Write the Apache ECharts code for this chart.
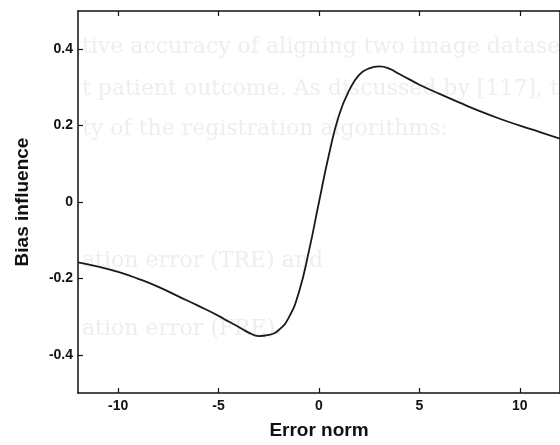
<!DOCTYPE html>
<html>
<head>
<meta charset="utf-8">
<script src="https://cdn.jsdelivr.net/npm/echarts@6/dist/echarts.min.js"></script>
<style>html,body{margin:0;padding:0;background:#fff}#c{width:560px;height:445px}</style>
</head>
<body>
<div id="c"></div>
<script>
// Data
const errorNorm = [-12,-11,-10,-9,-8,-7,-6,-5,-4.5,-4,-3.5,-3,-2.5,-2,-1.5,-1,-0.5,0,0.5,1,1.5,2,2.5,3,3.5,4,4.5,5,6,7,8,9,10,11,12];
const biasInfluence = [-0.158,-0.169,-0.183,-0.201,-0.222,-0.247,-0.272,-0.298,-0.313,-0.327,-0.342,-0.351,-0.348,-0.335,-0.302,-0.236,-0.128,0,0.125,0.228,0.292,0.333,0.350,0.355,0.349,0.335,0.321,0.307,0.283,0.260,0.238,0.218,0.200,0.183,0.166];
const xTicks = [-10,-5,0,5,10];
const yTicks = [-0.4,-0.2,0,0.2,0.4];
const bgLines = [
  "tive accuracy of aligning two image datase",
  "t patient outcome. As discussed by [117], t",
  "ty of the registration algorithms:",
  "ation error (TRE) and",
  "ation error (FRE)."
];
const bgY = [36, 78, 118, 250, 318];

const chart = echarts.init(document.getElementById('c'), null, {renderer:'canvas'});
const lbl = {color:'#111', fontFamily:'Liberation Sans, Arial', fontSize:14, fontWeight:'bold'};
const nameStyle = {color:'#111', fontFamily:'Liberation Sans, Arial', fontSize:19, fontWeight:'bold'};
chart.setOption({
  animation:false,
  backgroundColor:'#fff',
  graphic: bgLines.map((t,i)=>({type:'text', left:82, top:bgY[i], z:-10, silent:true,
    style:{text:t, fill:'#eeeeee', font:'22px "DejaVu Serif", serif'}})),
  grid:{left:78, top:11, right:-5, bottom:51},
  xAxis:[{
    type:'value', min:-12, max:12, position:'bottom',
    name:'Error norm', nameLocation:'middle', nameGap:28, nameTextStyle:nameStyle,
    axisLine:{onZero:false, lineStyle:{color:'#111', width:1.5}},
    axisTick:{inside:true, length:5, customValues:xTicks, lineStyle:{color:'#111', width:1.2}},
    axisLabel:{...lbl, margin:6, customValues:xTicks},
    splitLine:{show:false}
  },{
    type:'value', min:-12, max:12, position:'top',
    axisLine:{onZero:false, lineStyle:{color:'#111', width:1.5}},
    axisTick:{inside:true, length:5, customValues:xTicks, lineStyle:{color:'#111', width:1.2}},
    axisLabel:{show:false}, splitLine:{show:false}
  }],
  yAxis:[{
    type:'value', min:-0.5, max:0.5, position:'left',
    name:'Bias influence', nameLocation:'middle', nameGap:46, nameRotate:90, nameTextStyle:nameStyle,
    axisLine:{onZero:false, lineStyle:{color:'#111', width:1.5}},
    axisTick:{inside:true, length:5, customValues:yTicks, lineStyle:{color:'#111', width:1.2}},
    axisLabel:{...lbl, margin:5, customValues:yTicks, formatter:v=>String(Math.round(v*10)/10)},
    splitLine:{show:false}
  },{
    type:'value', min:-0.5, max:0.5, position:'right',
    axisLine:{onZero:false, lineStyle:{color:'#111', width:1.5}},
    axisTick:{show:false}, axisLabel:{show:false}, splitLine:{show:false}
  }],
  series:[{
    type:'line', smooth:0.5, showSymbol:false, symbol:'none',
    data: errorNorm.map((x,i)=>[x, biasInfluence[i]]),
    lineStyle:{color:'#1a1a1a', width:1.8}
  }]
});
</script>
</body>
</html>
